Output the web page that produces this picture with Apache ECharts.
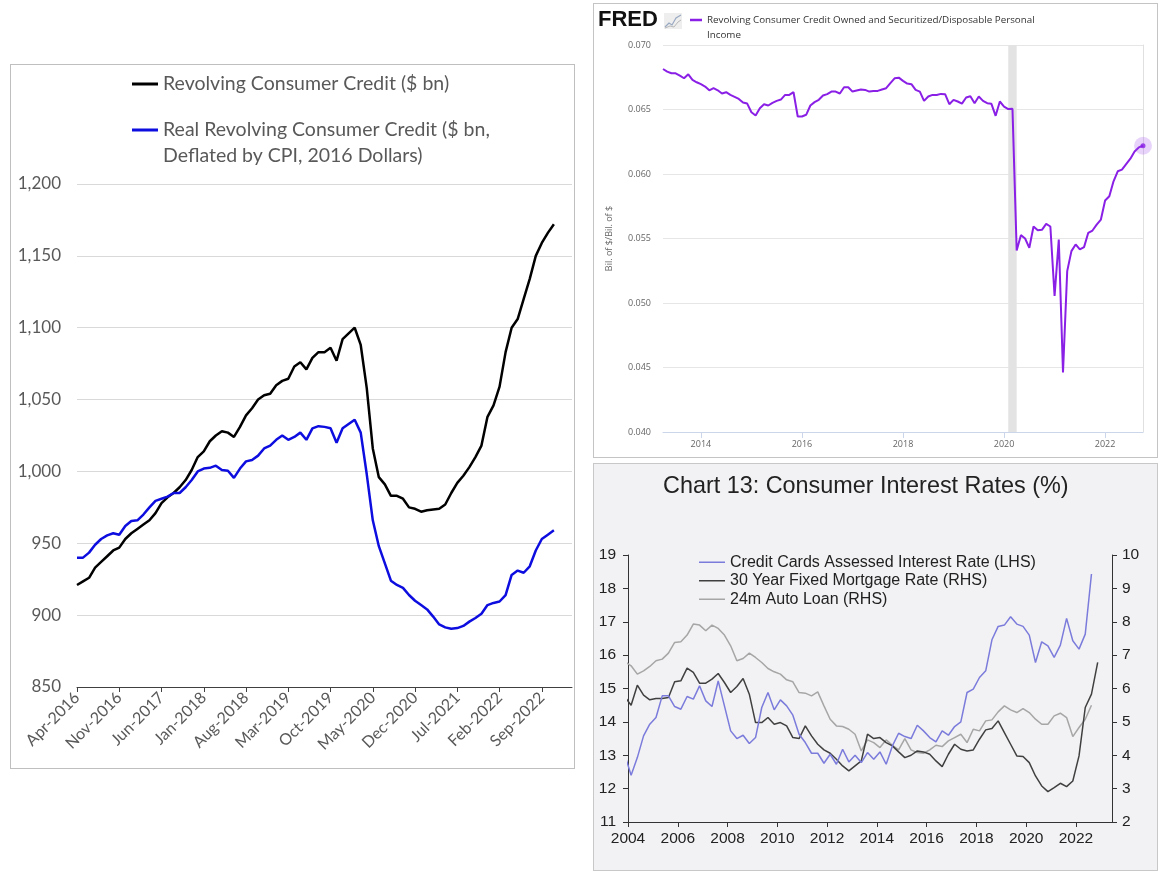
<!DOCTYPE html>
<html><head><meta charset="utf-8">
<script src="https://cdn.jsdelivr.net/npm/echarts@6/dist/echarts.min.js"></script>
<style>
html,body{margin:0;padding:0;background:#fff;width:1161px;height:878px;overflow:hidden;}
.c{position:absolute;}
.b{position:absolute;pointer-events:none;box-sizing:border-box;border:1px solid #bfbfbf;z-index:5;}
</style></head><body>
<div id="c1" class="c" style="left:10px;top:64px;width:565px;height:705px;"></div>
<div class="b" style="left:10px;top:64px;width:565px;height:705px;"></div>
<div id="c2" class="c" style="left:593px;top:3px;width:565px;height:455px;"></div>
<div class="b" style="left:593px;top:3px;width:565px;height:455px;border-color:#c4c4c4"></div>
<div id="c3" class="c" style="left:593px;top:463px;width:565px;height:408px;"></div>
<div class="b" style="left:593px;top:463px;width:565px;height:408px;border-color:#c8c8c8"></div>
<script>
// ---------- Chart 1: Revolving consumer credit (monthly from Apr-2016) ----------
const revStart = {year: 2016, month: 4};
const revCategoryCount = 83;
const revNominal = [921, 923.5, 926, 933, 937, 941, 945, 947, 953, 957, 960, 963, 966, 971, 978, 982, 985, 989, 994, 1001, 1010, 1014,
  1021, 1025, 1028, 1027, 1024, 1031, 1039, 1044, 1050, 1053, 1054, 1060, 1063, 1064.5, 1073, 1076, 1071, 1079, 1083, 1083, 1086, 1077, 1092, 1096,
  1100, 1088, 1058, 1016, 996, 991, 983, 983, 981, 975, 974, 972, 973, 973.5, 974, 977, 985, 992, 997, 1003, 1010, 1018, 1038, 1046, 1059, 1083, 1100, 1106, 1120, 1134, 1150, 1159, 1166, 1172];
const revReal = [940, 940, 943.5, 949, 953, 955.5, 957, 956, 962, 965.5, 966, 970, 975, 979.5, 981, 982.5, 985, 985, 989, 994, 1000, 1002,
  1002.5, 1004, 1001, 1000.5, 995.5, 1002, 1007, 1008, 1011, 1016, 1018, 1022, 1025, 1022, 1024, 1027, 1022, 1030, 1031.5, 1031, 1030, 1020, 1030, 1033,
  1036, 1027, 998, 966, 948, 936, 924, 921, 919, 914, 910, 907, 904, 899, 893.5, 891.5, 890.5, 891, 892.5, 895.5, 898, 901, 907, 908.5, 909.5, 914, 928, 931, 929.5, 934, 945, 953, 956, 959];
const revNames = ['Revolving Consumer Credit ($ bn)', 'Real Revolving Consumer Credit ($ bn, Deflated by CPI, 2016 Dollars)'];
const revYTicks = {min: 850, max: 1200, step: 50};

// ---------- Chart 2: FRED ratio (monthly from 2013-04) ----------
const fredStart = {year: 2013, month: 4};
const fredName = 'Revolving Consumer Credit Owned and Securitized/Disposable Personal Income';
const fredValues = [0.06814, 0.06794, 0.06781, 0.06781, 0.06763, 0.06742, 0.06773, 0.06729, 0.06711,
  0.06696, 0.06678, 0.06649, 0.06665, 0.06649, 0.06624, 0.06634, 0.06613, 0.06598, 0.06582, 0.06554, 0.06546,
  0.06479, 0.06454, 0.06510, 0.06541, 0.06531, 0.06552, 0.06567, 0.06577, 0.06613, 0.06613, 0.06634, 0.06446,
  0.06446, 0.06459, 0.06531, 0.06557, 0.06575, 0.06608, 0.06619, 0.06639, 0.06639, 0.06624, 0.06673, 0.06673,
  0.06639, 0.06647, 0.06655, 0.06652, 0.06639, 0.06644, 0.06644, 0.06655, 0.06665, 0.06704, 0.06742, 0.06747,
  0.06722, 0.06701, 0.06696, 0.06652, 0.06639, 0.06567, 0.06601, 0.06613, 0.06613, 0.06621, 0.06619, 0.06541,
  0.06575, 0.06562, 0.06546, 0.06593, 0.06603, 0.06549, 0.06601, 0.06567, 0.06549, 0.06544, 0.06451, 0.06562,
  0.06523, 0.06503, 0.06505, 0.05407, 0.05526, 0.05500, 0.05428, 0.05593, 0.05564, 0.05567, 0.05613, 0.05593,
  0.05054, 0.05492, 0.04461, 0.05247, 0.05402, 0.05454, 0.05415, 0.05433, 0.05544, 0.05562, 0.05608, 0.05647,
  0.05794, 0.05827, 0.05943, 0.06021, 0.06034, 0.06077, 0.06119, 0.06175, 0.06206, 0.06219];
const fredRecession = ['2020-02', '2020-04'];

// ---------- Chart 3: Consumer interest rates (quarterly, mid-quarter month, from Nov-2003) ----------
const ratesStart = {year: 2003, month: 11};
const ratesNames = ['Credit Cards Assessed Interest Rate (LHS)', '30 Year Fixed Mortgage Rate (RHS)', '24m Auto Loan (RHS)'];
const creditCardRate = [13.0, 12.40, 12.93, 13.58, 13.93, 14.13, 14.78, 14.78, 14.46, 14.38, 14.76, 14.68, 15.08, 14.63, 14.46, 15.23,
  14.48, 13.73, 13.50, 13.60, 13.35, 13.53, 14.43, 14.88, 14.36, 14.66, 14.48, 14.20, 13.63, 13.38, 13.06, 13.06,
  12.76, 13.03, 12.73, 13.18, 12.80, 13.00, 12.78, 13.08, 12.88, 13.10, 12.73, 13.28, 13.66, 13.56, 13.50, 13.90,
  13.73, 13.53, 13.40, 13.73, 13.60, 13.86, 14.00, 14.88, 14.98, 15.33, 15.53, 16.46, 16.86, 16.90, 17.15, 16.93,
  16.86, 16.60, 15.78, 16.40, 16.28, 15.93, 16.30, 17.10, 16.43, 16.18, 16.63, 18.43];
const mortgageRate = [5.75, 5.50, 6.10, 5.80, 5.66, 5.70, 5.70, 5.73, 6.20, 6.23, 6.61, 6.48, 6.16, 6.16, 6.28, 6.45,
  6.18, 5.88, 6.06, 6.30, 5.83, 4.98, 4.98, 5.13, 4.93, 4.98, 4.88, 4.53, 4.50, 4.88, 4.58, 4.33,
  4.16, 4.06, 3.88, 3.68, 3.53, 3.68, 3.83, 4.63, 4.50, 4.53, 4.38, 4.28, 4.10, 3.93, 4.00, 4.13,
  4.10, 4.03, 3.83, 3.66, 4.03, 4.33, 4.18, 4.13, 4.16, 4.48, 4.76, 4.80, 5.03, 4.68, 4.33, 3.98,
  3.96, 3.78, 3.38, 3.08, 2.91, 3.03, 3.16, 3.06, 3.23, 3.98, 5.43, 5.83, 6.78];
const autoLoanRate = [6.80, 6.68, 6.43, 6.53, 6.66, 6.83, 6.88, 7.06, 7.38, 7.40, 7.60, 7.93, 7.90, 7.73, 7.90, 7.80,
  7.60, 7.28, 6.83, 6.90, 7.06, 6.93, 6.78, 6.60, 6.50, 6.43, 6.26, 6.20, 5.88, 5.86, 5.78, 5.90,
  5.48, 5.08, 4.88, 4.86, 4.78, 4.63, 4.13, 4.46, 4.38, 4.23, 4.46, 4.30, 4.16, 4.50, 4.16, 4.08,
  4.06, 4.16, 4.30, 4.26, 4.43, 4.53, 4.63, 4.38, 4.78, 4.73, 5.03, 5.06, 5.30, 5.48, 5.36, 5.28,
  5.40, 5.28, 5.08, 4.93, 4.93, 5.18, 5.26, 5.13, 4.56, 4.83, 5.08, 5.50];

// ---------- helpers ----------
const MN = ['Jan','Feb','Mar','Apr','May','Jun','Jul','Aug','Sep','Oct','Nov','Dec'];
function monthLabels(start, n, fmt) {
  const out = [];
  for (let i = 0; i < n; i++) {
    const t = start.month - 1 + i;
    const y = start.year + Math.floor(t / 12), m = t % 12;
    out.push(fmt(y, m));
  }
  return out;
}
const revCats = monthLabels(revStart, revCategoryCount, (y, m) => MN[m] + '-' + y);
const fredCats = monthLabels(fredStart, fredValues.length, (y, m) => y + '-' + String(m + 1).padStart(2, '0'));
function quarterX(start, n) {
  const out = [];
  for (let i = 0; i < n; i++) {
    const t = start.month - 1 + 3 * i;
    out.push(start.year + Math.floor(t / 12) + ((t % 12) + 0.5) / 12);
  }
  return out;
}
function pairs(xs, vs) { return vs.map((v, i) => [xs[i], v]); }

// ---------- Chart 1 ----------
const ch1 = echarts.init(document.getElementById('c1'));
const f1 = 'Lato, "Noto Sans", sans-serif';
ch1.setOption({
  animation: false,
  backgroundColor: '#ffffff',
  grid: {left: 67, top: 120, width: 495, height: 503},
  legend: [
    {data: [revNames[0]], left: 122, top: 8, padding: 0, icon: 'rect', itemWidth: 26, itemHeight: 3,
     textStyle: {fontFamily: f1, fontSize: 19.5, color: '#595959', lineHeight: 24}},
    {data: [revNames[1]], left: 122, top: 27, padding: 0, icon: 'rect', itemWidth: 26, itemHeight: 3,
     formatter: () => '\nReal Revolving Consumer Credit ($ bn,\nDeflated by CPI, 2016 Dollars)',
     textStyle: {fontFamily: f1, fontSize: 19.5, color: '#595959', lineHeight: 26}}
  ],
  xAxis: {
    type: 'category', data: revCats, boundaryGap: false,
    axisLine: {lineStyle: {color: '#404040', width: 1}},
    axisTick: {interval: 6, length: 5, lineStyle: {color: '#404040'}},
    axisLabel: {interval: 6, rotate: 45, color: '#595959', fontSize: 16, fontFamily: f1, margin: 8},
    splitLine: {show: false}
  },
  yAxis: {
    type: 'value', min: revYTicks.min, max: revYTicks.max, interval: revYTicks.step,
    axisLine: {show: false}, axisTick: {show: false},
    axisLabel: {color: '#595959', fontSize: 17, fontFamily: f1, margin: 16, formatter: v => v.toLocaleString('en-US')},
    splitLine: {lineStyle: {color: '#d9d9d9', width: 1}}
  },
  series: [
    {name: revNames[0], type: 'line', data: revNominal, symbol: 'none', lineStyle: {color: '#000000', width: 2.5}, itemStyle: {color: '#000000'}},
    {name: revNames[1], type: 'line', data: revReal, symbol: 'none', lineStyle: {color: '#0d0de0', width: 2.5}, itemStyle: {color: '#0d0de0'}}
  ]
});

// ---------- Chart 2 ----------
const ch2 = echarts.init(document.getElementById('c2'));
const f2 = '"Open Sans", "Noto Sans", sans-serif';
const purple = '#8a1fe6';
const evenJan = (i, v) => v.endsWith('-01') && parseInt(v, 10) % 2 === 0;
const lastIdx = fredValues.length - 1;
ch2.setOption({
  animation: false,
  backgroundColor: '#ffffff',
  grid: {left: 70, top: 42, width: 480, height: 387},
  legend: {data: [fredName], left: 97, top: -5.5, padding: 0, icon: 'rect', itemWidth: 12, itemHeight: 2.5,
    formatter: () => '\nRevolving Consumer Credit Owned and Securitized/Disposable Personal\nIncome',
    textStyle: {fontFamily: f2, fontSize: 9.8, color: '#333', lineHeight: 15}},
  graphic: [
    {type: 'text', left: 5, top: 6, style: {text: 'FRED', font: 'bold 22px "Liberation Sans", Arial, sans-serif', fill: '#111'}},
    {type: 'rect', shape: {x: 71, y: 10, width: 18, height: 16}, style: {fill: '#eeeeee'}},
    {type: 'polyline', shape: {points: [[72, 24], [76, 20], [79, 22], [83, 15], [88, 12]]}, style: {stroke: '#9aa9c2', lineWidth: 1.2, fill: null}},
    {type: 'polyline', shape: {points: [[72, 25], [77, 23], [81, 24], [85, 19], [88, 17]]}, style: {stroke: '#b8b8b8', lineWidth: 1, fill: null}}
  ],
  xAxis: {
    type: 'category', data: fredCats, boundaryGap: false,
    axisLine: {lineStyle: {color: '#ccd6eb'}},
    axisTick: {interval: evenJan, length: 6, lineStyle: {color: '#ccd6eb'}},
    axisLabel: {interval: evenJan, formatter: v => v.slice(0, 4), color: '#666', fontSize: 9, fontFamily: f2, margin: 8},
    splitLine: {show: false}
  },
  yAxis: [
    {type: 'value', min: 0.04, max: 0.07, interval: 0.005,
     name: 'Bil. of $/Bil. of $', nameLocation: 'middle', nameGap: 49,
     nameTextStyle: {fontFamily: f2, fontSize: 9, color: '#666'},
     axisLine: {show: false}, axisTick: {show: false},
     axisLabel: {formatter: v => v.toFixed(3), color: '#666', fontSize: 9, fontFamily: f2, margin: 12},
     splitLine: {lineStyle: {color: '#e6e6e6', width: 1}}},
    {type: 'value', position: 'right', min: 0.04, max: 0.07, interval: 0.005,
     axisLine: {show: true, lineStyle: {color: '#e0e0e0'}}, axisTick: {show: false}, axisLabel: {show: false}, splitLine: {show: false}}
  ],
  series: [
    {name: fredName, type: 'line', data: fredValues, symbol: 'none', lineStyle: {color: purple, width: 2}, itemStyle: {color: purple}, z: 3,
     markArea: {silent: true, itemStyle: {color: '#e3e3e3'}, data: [[{xAxis: fredRecession[0]}, {xAxis: fredRecession[1]}]]}},
    {type: 'scatter', data: [[fredCats[lastIdx], fredValues[lastIdx]]], symbolSize: 18, itemStyle: {color: 'rgba(160,80,235,0.3)'}, z: 4, silent: true},
    {type: 'scatter', data: [[fredCats[lastIdx], fredValues[lastIdx]]], symbolSize: 5, itemStyle: {color: purple}, z: 5, silent: true}
  ]
});

// ---------- Chart 3 ----------
const ch3 = echarts.init(document.getElementById('c3'));
const f3 = '"Liberation Sans", Arial, sans-serif';
const xCC = quarterX(ratesStart, creditCardRate.length);
const xMort = quarterX(ratesStart, mortgageRate.length);
const xAuto = quarterX(ratesStart, autoLoanRate.length);
const axisCol = '#333333';
ch3.setOption({
  animation: false,
  backgroundColor: '#f2f2f4',
  title: {text: 'Chart 13: Consumer Interest Rates (%)', left: 70, top: 12, padding: 0,
    textStyle: {fontFamily: f3, fontSize: 23.4, fontWeight: 'normal', color: '#222'}},
  grid: {left: 35, top: 92, width: 484, height: 267},
  legend: {data: ratesNames, orient: 'vertical', left: 106, top: 90, padding: 0, itemGap: 0, icon: 'rect', itemWidth: 26, itemHeight: 1.5,
    textStyle: {fontFamily: f3, fontSize: 16, color: '#222', lineHeight: 18.5}},
  xAxis: {
    type: 'value', min: 2004, max: 2023.45, interval: 2,
    axisLine: {lineStyle: {color: axisCol}}, axisTick: {length: 5, lineStyle: {color: axisCol}},
    axisLabel: {fontFamily: f3, fontSize: 15.5, color: '#222', margin: 9, showMaxLabel: false,
      formatter: v => (Math.abs(v % 2) < 1e-6 ? String(v) : '')},
    splitLine: {show: false}
  },
  yAxis: [
    {type: 'value', position: 'left', min: 11, max: 19, interval: 1,
     axisLine: {show: true, lineStyle: {color: axisCol}}, axisTick: {show: true, length: 5, lineStyle: {color: axisCol}},
     axisLabel: {fontFamily: f3, fontSize: 15.5, color: '#222', margin: 12}, splitLine: {show: false}},
    {type: 'value', position: 'right', min: 2, max: 10, interval: 1,
     axisLine: {show: true, lineStyle: {color: axisCol}}, axisTick: {show: true, length: 5, lineStyle: {color: axisCol}},
     axisLabel: {fontFamily: f3, fontSize: 15.5, color: '#222', margin: 10}, splitLine: {show: false}}
  ],
  series: [
    {name: ratesNames[2], type: 'line', yAxisIndex: 1, data: pairs(xAuto, autoLoanRate), symbol: 'none', lineStyle: {color: '#a6a6a6', width: 1.5}, itemStyle: {color: '#a6a6a6'}},
    {name: ratesNames[1], type: 'line', yAxisIndex: 1, data: pairs(xMort, mortgageRate), symbol: 'none', lineStyle: {color: '#404040', width: 1.5}, itemStyle: {color: '#404040'}},
    {name: ratesNames[0], type: 'line', yAxisIndex: 0, data: pairs(xCC, creditCardRate), symbol: 'none', lineStyle: {color: '#7b7bdc', width: 1.5}, itemStyle: {color: '#7b7bdc'}}
  ]
});
</script>
</body></html>
